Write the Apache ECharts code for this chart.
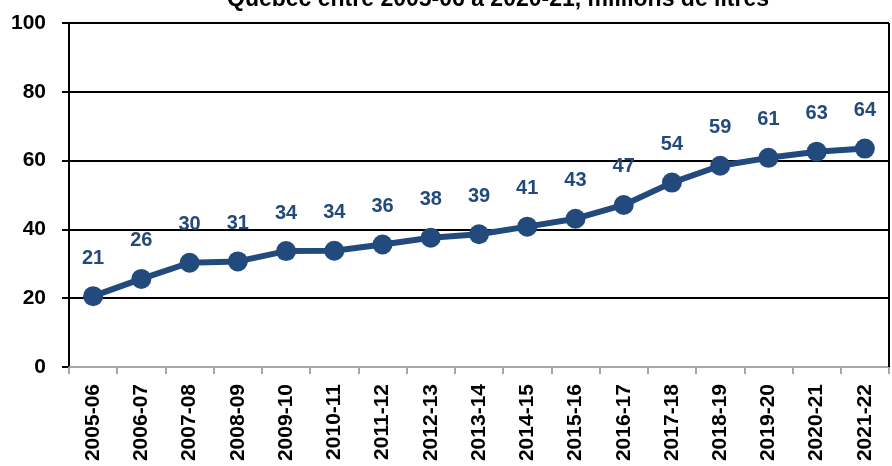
<!DOCTYPE html>
<html>
<head>
<meta charset="utf-8">
<script src="https://cdn.jsdelivr.net/npm/echarts@6/dist/echarts.min.js"></script>
<style>
  html, body { margin: 0; padding: 0; background: #fff; }
  #chart { width: 892px; height: 466px; }
</style>
</head>
<body>
<div id="chart"></div>
<script>
// ── données ──
const periods = ['2005-06','2006-07','2007-08','2008-09','2009-10','2010-11','2011-12','2012-13',
  '2013-14','2014-15','2015-16','2016-17','2017-18','2018-19','2019-20','2020-21','2021-22'];
const volumes = [20.6, 25.6, 30.3, 30.7, 33.7, 33.8, 35.6, 37.6, 38.6, 40.8, 43.1, 47.1, 53.6, 58.5, 60.8, 62.6, 63.5];
const yTicks = [0, 20, 40, 60, 80, 100];

const titleText = 'Québec entre 2005-06 à 2020-21, millions de litres';
const navy = '#234a7d';

const chart = echarts.init(document.getElementById('chart'));
chart.setOption({
  animation: false,
  title: {
    text: titleText,
    left: 222,
    top: -17,
    textStyle: { fontFamily: 'Liberation Sans, Arial', fontSize: 23, fontWeight: 'bold', color: '#000' }
  },
  grid: { left: 69, right: 3, top: 23, bottom: 99 },
  xAxis: {
    type: 'category',
    data: periods,
    boundaryGap: true,
    axisLine: { lineStyle: { color: '#a6a6a6', width: 2 } },
    axisTick: { show: true, length: 7, lineStyle: { color: '#a6a6a6', width: 2 } },
    axisLabel: {
      rotate: 90, margin: 17, color: '#000',
      fontFamily: 'Liberation Sans, Arial', fontSize: 21, fontWeight: 'bold'
    },
    splitLine: { show: false }
  },
  yAxis: {
    type: 'value',
    min: yTicks[0], max: yTicks[yTicks.length - 1], interval: 20,
    axisLine: { show: true, lineStyle: { color: '#000', width: 2 } },
    axisTick: { show: true, length: 7, lineStyle: { color: '#000', width: 2 } },
    axisLabel: {
      margin: 23, color: '#000',
      fontFamily: 'Liberation Sans, Arial', fontSize: 21, fontWeight: 'bold'
    },
    splitLine: { lineStyle: { color: '#000', width: 2 } }
  },
  series: [
    {
      type: 'line',
      data: volumes,
      symbol: 'circle',
      symbolSize: 20,
      lineStyle: { color: navy, width: 6 },
      itemStyle: { color: navy },
      label: {
        show: true, position: 'top', distance: 18,
        color: navy, fontFamily: 'Liberation Sans, Arial', fontSize: 20, fontWeight: 'bold',
        formatter: p => Math.round(p.value)
      }
    },
    {
      // bordure droite du cadre
      type: 'line', data: [], silent: true,
      markLine: {
        symbol: 'none', silent: true, label: { show: false },
        lineStyle: { color: '#000', width: 2, type: 'solid' },
        data: [[{ xAxis: periods[periods.length - 1], yAxis: 0, x: 889 }, { xAxis: periods[periods.length - 1], yAxis: 100, x: 889 }]]
      }
    }
  ]
});
</script>
</body>
</html>
